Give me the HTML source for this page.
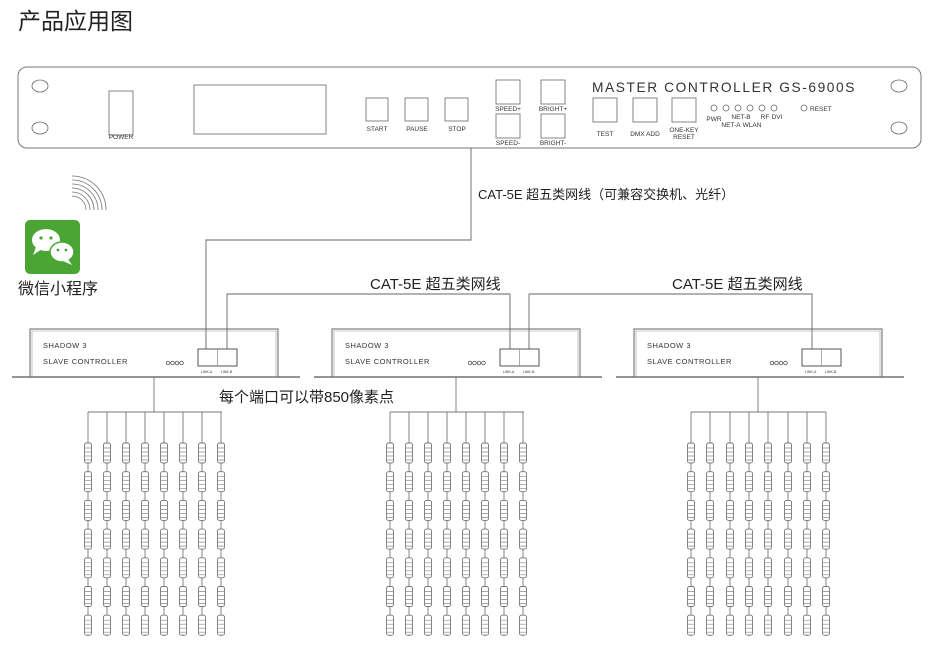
<!DOCTYPE html>
<html><head><meta charset="utf-8"><style>
html,body{margin:0;padding:0;background:#fff;}
svg{display:block;}
text{font-family:"Liberation Sans","Noto Sans CJK SC",sans-serif;}
</style></head><body>
<svg width="940" height="645" viewBox="0 0 940 645" xmlns="http://www.w3.org/2000/svg">
<defs>
<g id="el">
  <rect x="-3.5" y="0" width="7" height="20" rx="2" fill="#fff" stroke="#777" stroke-width="0.9"/>
  <path d="M-3.5 5H3.5M-3.5 9H3.5M-3.5 13H3.5M-3.5 17H3.5" stroke="#888" stroke-width="0.7"/>
</g>
<g id="strip">
  <line x1="0" y1="412" x2="0" y2="636" stroke="#777" stroke-width="0.9"/>
  <use href="#el" y="443"/><use href="#el" y="471.7"/><use href="#el" y="500.4"/><use href="#el" y="529.1"/>
  <use href="#el" y="557.8"/><use href="#el" y="586.5"/><use href="#el" y="615.2"/>
</g>
<g id="slave">
  <line x1="-142" y1="377" x2="146" y2="377" stroke="#555" stroke-width="1.3"/>
  <path d="M-124 377V329H124V377" fill="none" stroke="#666" stroke-width="1"/>
  <path d="M-122 377V331H122V377" fill="none" stroke="#999" stroke-width="0.6"/>
  <text x="-111" y="348" font-size="7.5" fill="#333" letter-spacing="0.5">SHADOW 3</text>
  <text x="-111" y="364" font-size="7.5" fill="#333" letter-spacing="0.5">SLAVE CONTROLLER</text>
  <circle cx="14" cy="363" r="1.8" fill="none" stroke="#333" stroke-width="0.7"/>
  <circle cx="18.5" cy="363" r="1.8" fill="none" stroke="#333" stroke-width="0.7"/>
  <circle cx="23" cy="363" r="1.8" fill="none" stroke="#333" stroke-width="0.7"/>
  <circle cx="27.5" cy="363" r="1.8" fill="none" stroke="#333" stroke-width="0.7"/>
  <rect x="44" y="349" width="39" height="17" fill="#fff" stroke="#444" stroke-width="0.9"/>
  <line x1="63.5" y1="349" x2="63.5" y2="366" stroke="#888" stroke-width="0.7"/>
  <text x="47" y="373" font-size="3.5" fill="#333">LINK-A</text>
  <text x="67" y="373" font-size="3.5" fill="#333">LINK-B</text>
  <path d="M0 377V412" stroke="#777" stroke-width="0.9"/>
</g>
</defs>

<text x="18" y="29" font-size="23" fill="#222" font-family="Liberation Sans,'Noto Sans CJK SC',sans-serif">产品应用图</text>

<!-- master -->
<rect x="18" y="67" width="903" height="81" rx="9" fill="#fff" stroke="#777" stroke-width="1"/>
<ellipse cx="40" cy="86" rx="8" ry="6" fill="none" stroke="#666" stroke-width="0.8"/>
<ellipse cx="40" cy="128" rx="8" ry="6" fill="none" stroke="#666" stroke-width="0.8"/>
<ellipse cx="899" cy="86" rx="8" ry="6" fill="none" stroke="#666" stroke-width="0.8"/>
<ellipse cx="899" cy="128" rx="8" ry="6" fill="none" stroke="#666" stroke-width="0.8"/>
<g fill="none" stroke="#666" stroke-width="0.8">
<rect x="109" y="91" width="24" height="44"/>
<rect x="194" y="85" width="132" height="49"/>
<rect x="366" y="98" width="22" height="23"/>
<rect x="405" y="98" width="23" height="23"/>
<rect x="445" y="98" width="23" height="23"/>
<rect x="496" y="80" width="24" height="24"/>
<rect x="496" y="114" width="24" height="24"/>
<rect x="541" y="80" width="24" height="24"/>
<rect x="541" y="114" width="24" height="24"/>
<rect x="593" y="98" width="24" height="24"/>
<rect x="633" y="98" width="24" height="24"/>
<rect x="672" y="98" width="24" height="24"/>
<circle cx="714" cy="108" r="3"/><circle cx="726" cy="108" r="3"/><circle cx="738" cy="108" r="3"/>
<circle cx="750" cy="108" r="3"/><circle cx="762" cy="108" r="3"/><circle cx="774" cy="108" r="3"/>
<circle cx="804" cy="108" r="3"/>
</g>
<g font-size="6.5" fill="#333" text-anchor="middle">
<text x="121" y="139">POWER</text>
<text x="377" y="131">START</text>
<text x="417" y="131">PAUSE</text>
<text x="457" y="131">STOP</text>
<text x="508" y="111">SPEED+</text>
<text x="508" y="145">SPEED-</text>
<text x="553" y="111">BRIGHT+</text>
<text x="553" y="145">BRIGHT-</text>
<text x="605" y="136">TEST</text>
<text x="645" y="136">DMX ADD</text>
<text x="684" y="132">ONE-KEY</text>
<text x="684" y="139">RESET</text>
<text x="714" y="121">PWR</text>
<text x="741" y="119">NET-B</text>
<text x="765" y="119">RF</text>
<text x="777" y="119">DVI</text>
<text x="731" y="127">NET-A</text>
<text x="752" y="127">WLAN</text>
</g>
<text x="810" y="111" font-size="6.5" fill="#333">RESET</text>
<text x="592" y="92" font-size="14" fill="#333" letter-spacing="1.6" textLength="264" lengthAdjust="spacingAndGlyphs">MASTER CONTROLLER  GS-6900S</text>

<!-- wechat -->
<rect x="25" y="220" width="55" height="54" rx="5" fill="#4aa535"/>
<ellipse cx="46" cy="240" rx="14" ry="11" fill="#fff"/>
<path d="M36 247 L33 255 L42 249Z" fill="#fff"/>
<ellipse cx="62" cy="252" rx="12" ry="10" fill="#fff" stroke="#4aa535" stroke-width="1.5"/>
<path d="M68 259 L72 265 L63 261Z" fill="#fff"/>
<circle cx="41" cy="238" r="1.6" fill="#4aa535"/><circle cx="51" cy="238" r="1.6" fill="#4aa535"/>
<circle cx="58" cy="250" r="1.4" fill="#4aa535"/><circle cx="66" cy="250" r="1.4" fill="#4aa535"/>
<g fill="none" stroke="#777" stroke-width="0.8">
<path d="M72 196 A14 14 0 0 1 86 210"/>
<path d="M72 192 A18 18 0 0 1 90 210"/>
<path d="M72 188 A22 22 0 0 1 94 210"/>
<path d="M72 184 A26 26 0 0 1 98 210"/>
<path d="M72 180 A30 30 0 0 1 102 210"/>
<path d="M72 176 A34 34 0 0 1 106 210"/>
</g>
<text x="18" y="294" font-size="16" fill="#222">微信小程序</text>

<!-- cables -->
<g fill="none" stroke="#666" stroke-width="0.9">
<path d="M471 148V240H206V349"/>
<path d="M227 349V294H510V349"/>
<path d="M529 349V294H812V349"/>
</g>
<text x="478" y="199" font-size="13" fill="#222">CAT-5E 超五类网线（可兼容交换机、光纤）</text>
<text x="370" y="289" font-size="15" fill="#222">CAT-5E 超五类网线</text>
<text x="672" y="289" font-size="15" fill="#222">CAT-5E 超五类网线</text>

<!-- slaves -->
<use href="#slave" x="154"/>
<use href="#slave" x="456"/>
<use href="#slave" x="758"/>
<text x="219" y="402" font-size="15" fill="#222">每个端口可以带850像素点</text>

<g stroke="#777" stroke-width="0.9">
<line x1="88" y1="412" x2="222" y2="412"/>
<line x1="390" y1="412" x2="524" y2="412"/>
<line x1="691" y1="412" x2="826" y2="412"/>
</g>
<use href="#strip" x="88"/><use href="#strip" x="107"/><use href="#strip" x="126"/><use href="#strip" x="145"/>
<use href="#strip" x="164"/><use href="#strip" x="183"/><use href="#strip" x="202"/><use href="#strip" x="221"/>
<use href="#strip" x="390"/><use href="#strip" x="409"/><use href="#strip" x="428"/><use href="#strip" x="447"/>
<use href="#strip" x="466"/><use href="#strip" x="485"/><use href="#strip" x="504"/><use href="#strip" x="523"/>
<use href="#strip" x="691"/><use href="#strip" x="710"/><use href="#strip" x="730"/><use href="#strip" x="749"/>
<use href="#strip" x="768"/><use href="#strip" x="788"/><use href="#strip" x="807"/><use href="#strip" x="826"/>
</svg>
</body></html>
